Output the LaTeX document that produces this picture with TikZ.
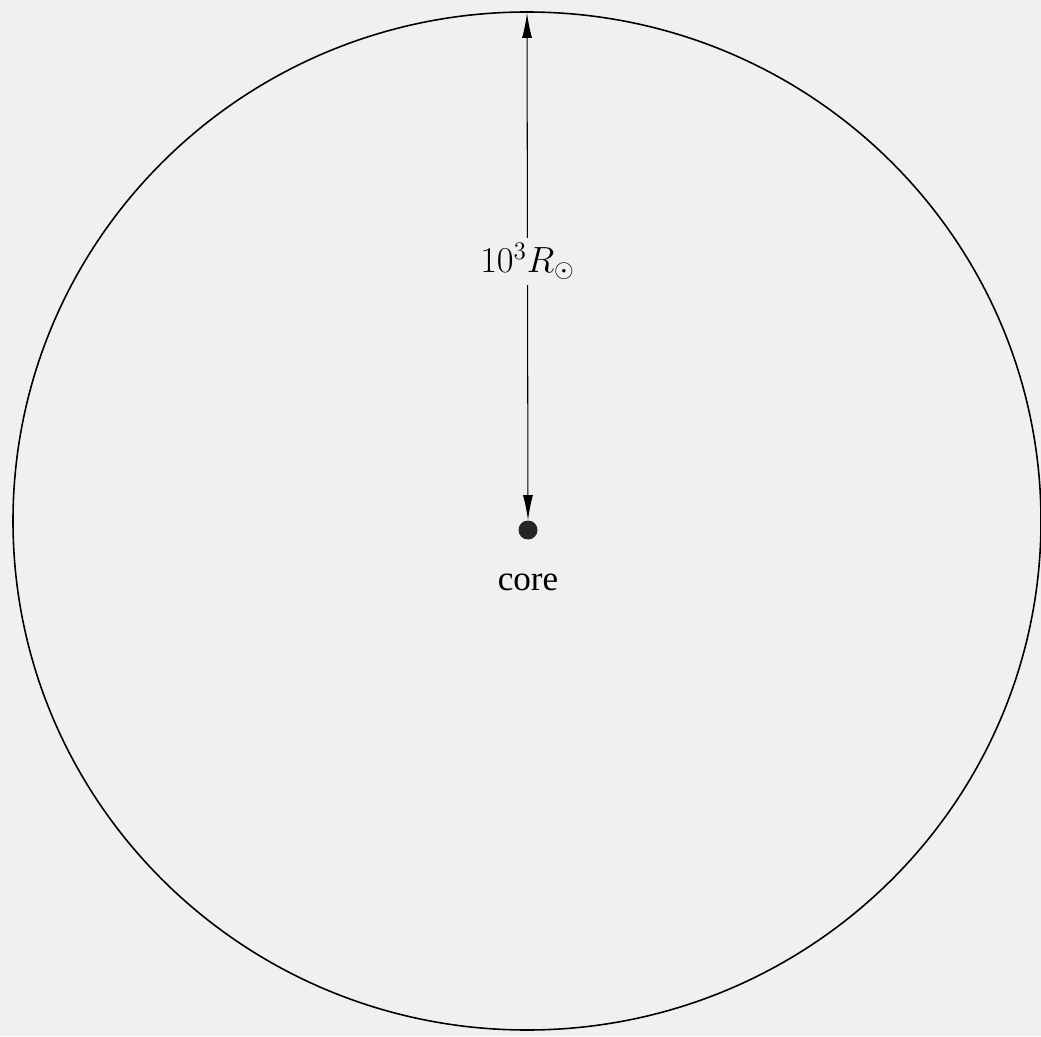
\documentclass[tikz,border=0pt]{standalone}
\usepackage{fontspec}
\setmainfont{Liberation Serif}
\usepackage{tikz}
\usetikzlibrary{positioning,arrows.meta}
\definecolor{paper}{RGB}{240,240,240}

\begin{document}
\begin{tikzpicture}[x=0.02cm,y=0.02cm,every node/.style={font=\fontsize{20}{24}\selectfont}]
\fill[paper] (0,0) rectangle (1041,1036);
\useasboundingbox (0,0) rectangle (1041,1036);
\draw[line width=0.9pt] (527,515) ellipse [x radius=514, y radius=509];
\node[circle,fill=black!85,inner sep=0pt,minimum size=0.38cm] (dot) at (528,506) {};
\node[below=0.55cm of dot] (core) {core};
\coordinate (top) at (527,1023);
\draw[line width=0.6pt,{Latex[length=5mm,width=2mm]}-{Latex[length=5mm,width=2mm]}] (top) -- (dot.north)
  node[pos=0.49,fill=paper,inner sep=3pt] (radius) {$10^3 R_\odot$};
\end{tikzpicture}
\end{document}
